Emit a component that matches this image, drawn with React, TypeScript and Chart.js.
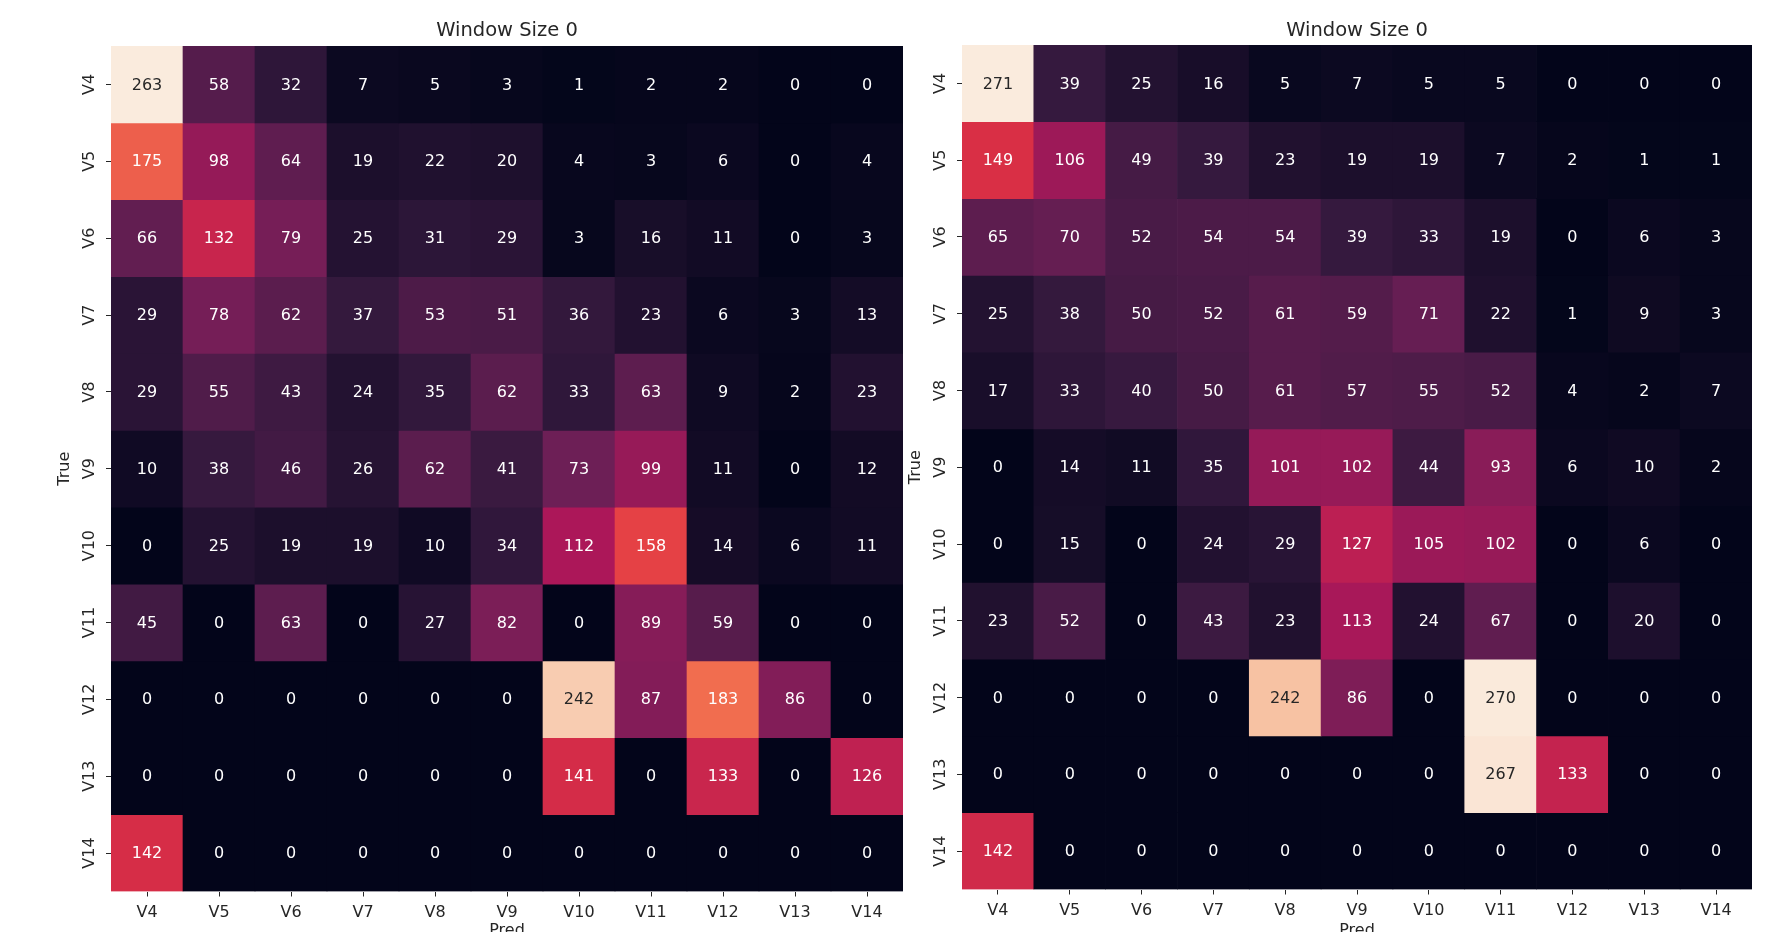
import React, { useEffect, useRef } from "react";
import { Chart, registerables } from "chart.js";

Chart.register(...registerables);

// ---------- data ----------
const predLabels = ["V4", "V5", "V6", "V7", "V8", "V9", "V10", "V11", "V12", "V13", "V14"];
const trueLabels = ["V4", "V5", "V6", "V7", "V8", "V9", "V10", "V11", "V12", "V13", "V14"];
const xAxisTitle = "Pred";
const yAxisTitle = "True";
const leftTitle = "Window Size 0";
const rightTitle = "Window Size 0";

const leftValues: number[][] = [
  [263, 58, 32, 7, 5, 3, 1, 2, 2, 0, 0],
  [175, 98, 64, 19, 22, 20, 4, 3, 6, 0, 4],
  [66, 132, 79, 25, 31, 29, 3, 16, 11, 0, 3],
  [29, 78, 62, 37, 53, 51, 36, 23, 6, 3, 13],
  [29, 55, 43, 24, 35, 62, 33, 63, 9, 2, 23],
  [10, 38, 46, 26, 62, 41, 73, 99, 11, 0, 12],
  [0, 25, 19, 19, 10, 34, 112, 158, 14, 6, 11],
  [45, 0, 63, 0, 27, 82, 0, 89, 59, 0, 0],
  [0, 0, 0, 0, 0, 0, 242, 87, 183, 86, 0],
  [0, 0, 0, 0, 0, 0, 141, 0, 133, 0, 126],
  [142, 0, 0, 0, 0, 0, 0, 0, 0, 0, 0],
];

const rightValues: number[][] = [
  [271, 39, 25, 16, 5, 7, 5, 5, 0, 0, 0],
  [149, 106, 49, 39, 23, 19, 19, 7, 2, 1, 1],
  [65, 70, 52, 54, 54, 39, 33, 19, 0, 6, 3],
  [25, 38, 50, 52, 61, 59, 71, 22, 1, 9, 3],
  [17, 33, 40, 50, 61, 57, 55, 52, 4, 2, 7],
  [0, 14, 11, 35, 101, 102, 44, 93, 6, 10, 2],
  [0, 15, 0, 24, 29, 127, 105, 102, 0, 6, 0],
  [23, 52, 0, 43, 23, 113, 24, 67, 0, 20, 0],
  [0, 0, 0, 0, 242, 86, 0, 270, 0, 0, 0],
  [0, 0, 0, 0, 0, 0, 0, 267, 133, 0, 0],
  [142, 0, 0, 0, 0, 0, 0, 0, 0, 0, 0],
];

// ---------- colour map (rocket) ----------
const ROCKET: [number, number[]][] = [
  [0, [3, 5, 26]],
  [1 / 7, [0x35, 0x19, 0x3e]],
  [2 / 7, [0x70, 0x1f, 0x57]],
  [3 / 7, [0xad, 0x17, 0x59]],
  [4 / 7, [0xe1, 0x33, 0x42]],
  [5 / 7, [0xf3, 0x76, 0x51]],
  [6 / 7, [0xf6, 0xb4, 0x8f]],
  [1, [0xfa, 0xeb, 0xdd]],
];

function rocket(t: number): number[] {
  const u = Math.max(0, Math.min(1, t));
  for (let k = 0; k < ROCKET.length - 1; k++) {
    const [t0, c0] = ROCKET[k];
    const [t1, c1] = ROCKET[k + 1];
    if (u <= t1) {
      const f = (u - t0) / (t1 - t0);
      return c0.map((c, i) => Math.round(c + (c1[i] - c) * f));
    }
  }
  return ROCKET[ROCKET.length - 1][1];
}

function luminance(rgb: number[]): number {
  const lin = rgb.map((c) => {
    const s = c / 255;
    return s <= 0.03928 ? s / 12.92 : Math.pow((s + 0.055) / 1.055, 2.4);
  });
  return 0.2126 * lin[0] + 0.7152 * lin[1] + 0.0722 * lin[2];
}

const FONT = "'DejaVu Sans', sans-serif";
const TEXT = "#262626";
const CANVAS_H = 960;

type Geom = {
  left: number;
  width: number;
  areaLeft: number;
  areaRight: number;
  areaTop: number;
  areaBottom: number;
};

function Heatmap({ values, title, geom }: { values: number[][]; title: string; geom: Geom }) {
  const ref = useRef<HTMLCanvasElement>(null);

  useEffect(() => {
    const flat = values.flat();
    const vmax = Math.max(...flat);
    const vmin = Math.min(...flat);
    const rgbs = values.map((row) => row.map((v) => rocket((v - vmin) / (vmax - vmin))));

    const datasets = values.map((row, i) => ({
      label: trueLabels[i],
      data: row.map(() => [i - 0.5, i + 0.5]),
      backgroundColor: rgbs[i].map((c) => `rgb(${c[0]},${c[1]},${c[2]})`),
      borderWidth: 0,
      grouped: false,
      barPercentage: 1,
      categoryPercentage: 1,
    }));

    const annot = {
      id: "annot",
      afterDatasetsDraw(chart: any) {
        const ctx = chart.ctx;
        ctx.save();
        ctx.font = `16px ${FONT}`;
        ctx.textAlign = "center";
        ctx.textBaseline = "middle";
        values.forEach((row, i) => {
          const meta = chart.getDatasetMeta(i);
          row.forEach((v, j) => {
            const el: any = meta.data[j];
            const cx = el.x;
            const cy = (el.y + el.base) / 2 + 1;
            ctx.fillStyle = luminance(rgbs[i][j]) > 0.408 ? TEXT : "#ffffff";
            ctx.fillText(String(v), cx, cy);
          });
        });
        ctx.restore();
      },
    };

    const titleFont = 19.5;
    const titleLH = titleFont * 1.2;
    const titlePadTop = 19;
    const titlePadBottom = geom.areaTop - titleLH - titlePadTop;
    const trueCenter = geom.areaLeft - 46.5;

    const chart = new Chart(ref.current as HTMLCanvasElement, {
      type: "bar",
      data: { labels: predLabels, datasets: datasets as any },
      options: {
        responsive: false,
        animation: false,
        events: [],
        layout: {
          padding: { left: 0, right: geom.left + geom.width - geom.areaRight, top: 0, bottom: 0 },
        },
        plugins: {
          legend: { display: false },
          tooltip: { enabled: false },
          title: {
            display: true,
            text: title,
            fullSize: false,
            color: TEXT,
            font: { family: FONT, size: titleFont, weight: "normal" },
            padding: { top: titlePadTop, bottom: titlePadBottom },
          },
        },
        scales: {
          x: {
            type: "category",
            offset: true,
            grid: {
              offset: false,
              drawOnChartArea: false,
              drawTicks: true,
              tickLength: 5,
              tickColor: TEXT,
              tickWidth: 1,
            },
            border: { display: false },
            ticks: {
              color: TEXT,
              font: { family: FONT, size: 16 },
              maxRotation: 0,
              minRotation: 0,
              autoSkip: false,
              padding: 7,
            },
            title: {
              display: true,
              text: xAxisTitle,
              color: TEXT,
              font: { family: FONT, size: 16 },
              padding: { top: 0, bottom: 19.5 },
            },
            afterFit: (s: any) => {
              s.height = CANVAS_H - geom.areaBottom;
            },
          },
          y: {
            type: "linear",
            min: -0.5,
            max: 10.5,
            reverse: true,
            afterBuildTicks: (s: any) => {
              s.ticks = trueLabels.map((_, i) => ({ value: i }));
            },
            ticks: {
              callback: (v: any) => trueLabels[Math.round(Number(v))],
              minRotation: 90,
              maxRotation: 90,
              crossAlign: "center",
              padding: 1,
              color: TEXT,
              font: { family: FONT, size: 16 },
              autoSkip: false,
            },
            grid: {
              drawOnChartArea: false,
              drawTicks: true,
              tickLength: 5,
              tickColor: TEXT,
              tickWidth: 1,
            },
            border: { display: false },
            title: {
              display: true,
              text: yAxisTitle,
              color: TEXT,
              font: { family: FONT, size: 16 },
              padding: { top: trueCenter - geom.left - 9.6, bottom: 0 },
            },
            afterFit: (s: any) => {
              s.width = geom.areaLeft - geom.left;
            },
          },
        },
      } as any,
      plugins: [annot],
    });
    return () => chart.destroy();
  }, [values, title, geom]);

  return (
    <canvas
      ref={ref}
      width={geom.width}
      height={CANVAS_H}
      style={{ position: "absolute", left: geom.left, top: 0, width: geom.width, height: CANVAS_H }}
    />
  );
}

const leftGeom: Geom = { left: 0, width: 915, areaLeft: 111, areaRight: 903, areaTop: 46, areaBottom: 891.5 };
const rightGeom: Geom = { left: 880, width: 890, areaLeft: 962, areaRight: 1752, areaTop: 45, areaBottom: 889.5 };

export default function App() {
  return (
    <div
      style={{
        position: "fixed",
        left: 0,
        top: 0,
        width: 1770,
        height: 932,
        overflow: "hidden",
        background: "#ffffff",
      }}
    >
      <Heatmap values={leftValues} title={leftTitle} geom={leftGeom} />
      <Heatmap values={rightValues} title={rightTitle} geom={rightGeom} />
    </div>
  );
}
